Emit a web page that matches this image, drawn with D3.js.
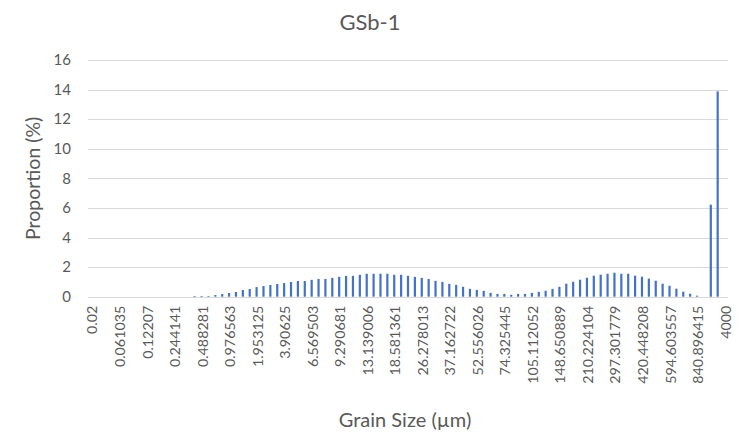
<!DOCTYPE html>
<html>
<head>
<meta charset="utf-8">
<script src="https://cdn.jsdelivr.net/npm/d3@7"></script>
<style>
  html, body { margin: 0; padding: 0; background: #ffffff; }
  svg { display: block; }
  text { font-family: Lato, "Open Sans", sans-serif; fill: #595959; }
</style>
</head>
<body>
<svg id="chart" width="749" height="438"></svg>
<script>
// Grain-size classes (µm)
const grainSizes = [
  "0.02", "0.036292", "0.043158", "0.051325",
  "0.061035", "0.072584", "0.086317", "0.102649",
  "0.12207", "0.145167", "0.172633", "0.205297",
  "0.244141", "0.290334", "0.345267", "0.410594",
  "0.488281", "0.580668", "0.690534", "0.821188",
  "0.976563", "1.161335", "1.381068", "1.642376",
  "1.953125", "2.322671", "2.762136", "3.284752",
  "3.90625", "4.64534", "5.524272", "6.02428",
  "6.569503", "7.16409", "7.8125", "8.519594",
  "9.290681", "10.131563", "11.048547", "12.048523",
  "13.139006", "14.32818", "15.625", "17.039188",
  "18.581361", "20.263127", "22.097087", "24.097048",
  "26.278013", "28.65636", "31.25", "34.078375",
  "37.162722", "40.52625", "44.194174", "48.194094",
  "52.556026", "57.31272", "62.5", "68.15675",
  "74.325445", "81.0525", "88.388348", "96.388188",
  "105.112052", "114.62544", "125", "136.3135",
  "148.650889", "162.105", "176.776695", "192.776376",
  "210.224104", "229.250881", "250", "272.627",
  "297.301779", "324.21", "353.553391", "385.552753",
  "420.448208", "458.501763", "500", "545.254",
  "594.603557", "648.42", "707.106781", "771.105506",
  "840.896415", "917.004043", "1000", "2000",
  "4000"
];

// Proportion of sample in each class (%)
const proportions = [
  0, 0, 0, 0,
  0, 0, 0, 0,
  0, 0, 0, 0,
  0, 0, 0, 0.05,
  0.05, 0.05, 0.11, 0.18,
  0.25, 0.32, 0.45, 0.52,
  0.65, 0.72, 0.79, 0.86,
  0.92, 0.99, 1.06, 1.06,
  1.14, 1.2, 1.2, 1.27,
  1.34, 1.41, 1.41, 1.48,
  1.55, 1.55, 1.55, 1.55,
  1.48, 1.48, 1.41, 1.34,
  1.27, 1.2, 1.07, 1.0,
  0.87, 0.8, 0.67, 0.53,
  0.46, 0.4, 0.26, 0.19,
  0.19, 0.13, 0.19, 0.19,
  0.26, 0.33, 0.4, 0.53,
  0.67, 0.88, 1.01, 1.15,
  1.28, 1.42, 1.49, 1.55,
  1.62, 1.55, 1.55, 1.42,
  1.35, 1.22, 1.08, 0.88,
  0.74, 0.54, 0.34, 0.2,
  0.07, 0, 6.22, 13.88,
  0
];

const yTicks = [0, 2, 4, 6, 8, 10, 12, 14, 16];
const labelEvery = 4;

const chartTitle = "GSb-1";
const xTitle = "Grain Size (µm)";
const yTitle = "Proportion (%)";

const svg = d3.select("#chart");
const plot = { left: 88, right: 728, top: 60, bottom: 296.7 };

const x = d3.scaleBand()
  .domain(grainSizes)
  .range([plot.left, plot.right])
  .paddingInner(0.68)
  .paddingOuter(0.34);

const y = d3.scaleLinear()
  .domain([0, 16])
  .range([plot.bottom, plot.top]);

// Horizontal gridlines
svg.append("g")
  .selectAll("line")
  .data(yTicks)
  .join("line")
  .attr("x1", plot.left)
  .attr("x2", plot.right)
  .attr("y1", d => Math.round(y(d)) + 0.5)
  .attr("y2", d => Math.round(y(d)) + 0.5)
  .attr("stroke", "#d9d9d9")
  .attr("stroke-width", 1.2);

// Bars
svg.append("g")
  .selectAll("rect")
  .data(grainSizes.map((g, i) => ({ g, v: proportions[i] })).filter(d => d.v > 0))
  .join("rect")
  .attr("x", d => x(d.g))
  .attr("width", x.bandwidth())
  .attr("y", d => y(d.v))
  .attr("height", d => y(0) - y(d.v))
  .attr("fill", "#4472c4");

// Y axis labels
const yAxis = d3.axisLeft(y).tickValues(yTicks).tickSize(0).tickPadding(0);
svg.append("g")
  .attr("transform", `translate(${plot.left - 17},0)`)
  .call(yAxis)
  .call(g => g.select(".domain").remove())
  .selectAll("text")
  .style("font-family", "Lato, sans-serif")
  .style("font-size", "15px")
  .attr("fill", "#595959");

// X axis labels (every fourth class), rotated
const xAxis = d3.axisBottom(x)
  .tickValues(grainSizes.filter((d, i) => i % labelEvery === 0))
  .tickSize(0);
svg.append("g")
  .attr("transform", `translate(0,${plot.bottom})`)
  .call(xAxis)
  .call(g => g.select(".domain").remove())
  .selectAll("text")
  .style("font-family", "Lato, sans-serif")
  .style("font-size", "14.3px")
  .attr("fill", "#595959")
  .attr("text-anchor", "end")
  .attr("transform", "rotate(-90)")
  .attr("x", -9)
  .attr("y", 1)
  .attr("dy", "0.35em");

// Titles
svg.append("text")
  .attr("x", 370)
  .attr("y", 30)
  .attr("text-anchor", "middle")
  .style("font-size", "22px")
  .text(chartTitle);

svg.append("text")
  .attr("x", 405)
  .attr("y", 427)
  .attr("text-anchor", "middle")
  .style("font-size", "20px")
  .text(xTitle);

svg.append("text")
  .attr("transform", `translate(40,${(plot.top + plot.bottom) / 2}) rotate(-90)`)
  .attr("text-anchor", "middle")
  .style("font-size", "19.5px")
  .text(yTitle);
</script>
</body>
</html>
